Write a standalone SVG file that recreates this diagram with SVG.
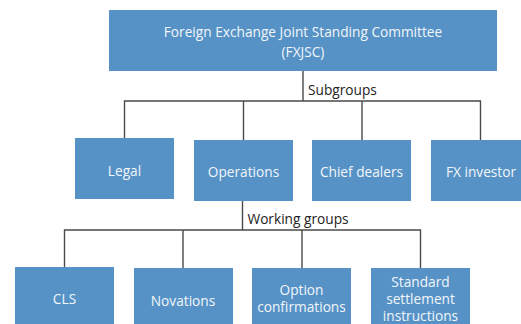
<svg xmlns="http://www.w3.org/2000/svg" width="521" height="324" viewBox="0 0 521 324">
  <style>
    .box { fill: #5692c5; }
    .lbl { font-family: "Open Sans", "Noto Sans", sans-serif; font-size: 13.7px; fill: #f2f6fb; text-anchor: middle; }
    .cap { font-family: "Open Sans", "Noto Sans", sans-serif; font-size: 13.7px; fill: #222; }
    .wire { fill: none; stroke: #4a4a4a; stroke-width: 1.4; }
  </style>
  <rect width="521" height="324" fill="#ffffff"/>

  <g id="connectors">
    <path class="wire" d="M303 71 V101 M124.5 138 V101 H480.5 V140 M243.5 101 V140 M362 101 V140"/>
    <path class="wire" d="M242.5 201 V230 M64.5 267 V230 H420.5 V268 M183 230 V268 M302 230 V268"/>
    <text class="cap" x="308" y="95">Subgroups</text>
    <text class="cap" x="247.5" y="224">Working groups</text>
  </g>

  <g id="fxjsc">
    <rect class="box" x="109" y="10" width="388" height="61"/>
    <text class="lbl" x="303" y="37">Foreign Exchange Joint Standing Committee</text>
    <text class="lbl" x="303" y="57">(FXJSC)</text>
  </g>

  <g id="legal">
    <rect class="box" x="75" y="138" width="99" height="61"/>
    <text class="lbl" x="124.5" y="176">Legal</text>
  </g>
  <g id="operations">
    <rect class="box" x="194" y="140" width="99" height="61"/>
    <text class="lbl" x="243.5" y="177">Operations</text>
  </g>
  <g id="chief-dealers">
    <rect class="box" x="312" y="140" width="99" height="61"/>
    <text class="lbl" x="361.5" y="177">Chief dealers</text>
  </g>
  <g id="fx-investor">
    <rect class="box" x="431" y="140" width="99" height="61"/>
    <text class="lbl" x="481" y="177">FX investor</text>
  </g>

  <g id="cls">
    <rect class="box" x="15" y="267" width="99" height="62"/>
    <text class="lbl" x="64.5" y="304">CLS</text>
  </g>
  <g id="novations">
    <rect class="box" x="134" y="268" width="99" height="62"/>
    <text class="lbl" x="183" y="306">Novations</text>
  </g>
  <g id="option-confirmations">
    <rect class="box" x="252" y="268" width="99" height="62"/>
    <text class="lbl" x="301.5" y="295">Option</text>
    <text class="lbl" x="301.5" y="312">confirmations</text>
  </g>
  <g id="ssi">
    <rect class="box" x="371" y="268" width="99" height="62"/>
    <text class="lbl" x="420.5" y="287">Standard</text>
    <text class="lbl" x="420.5" y="304">settlement</text>
    <text class="lbl" x="420.5" y="321">instructions</text>
  </g>
</svg>
